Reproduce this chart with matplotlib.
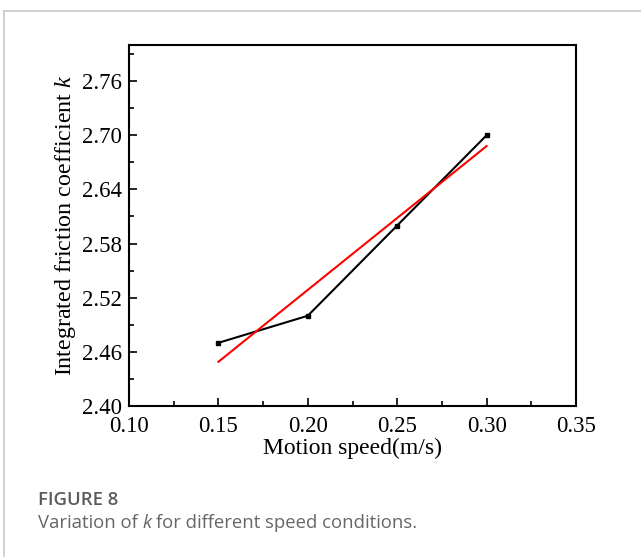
import matplotlib
matplotlib.use('Agg')
import matplotlib.pyplot as plt
from matplotlib.ticker import AutoMinorLocator
from matplotlib.lines import Line2D

plt.rcParams['font.family'] = ['Liberation Serif', 'DejaVu Serif']
plt.rcParams['mathtext.fontset'] = 'custom'
plt.rcParams['mathtext.it'] = 'Liberation Serif:italic'
plt.rcParams['mathtext.rm'] = 'Liberation Serif'

# data
speed = [0.15, 0.20, 0.25, 0.30]
k_values = [2.47, 2.50, 2.60, 2.70]
fit_speed = [0.15, 0.30]
fit_k = [2.449, 2.688]

x_ticks = [0.10, 0.15, 0.20, 0.25, 0.30, 0.35]
y_ticks = [2.40, 2.46, 2.52, 2.58, 2.64, 2.70, 2.76]

fig = plt.figure(figsize=(6.41, 5.57), dpi=100)
ax = fig.add_axes([129 / 641, 1 - 406 / 557, 447 / 641, 361 / 557])

ax.plot(speed, k_values, color='black', lw=1.5, marker='s', ms=3.5)
ax.plot(fit_speed, fit_k, color='red', lw=1.5)

ax.set_xlim(0.10, 0.35)
ax.set_ylim(2.40, 2.80)
ax.set_xticks(x_ticks)
ax.set_yticks(y_ticks)
ax.set_xticklabels(['%.2f' % v for v in x_ticks], fontsize=16.5)
ax.set_yticklabels(['%.2f' % v for v in y_ticks], fontsize=16.5)
ax.xaxis.set_minor_locator(AutoMinorLocator(2))
ax.yaxis.set_minor_locator(AutoMinorLocator(2))
ax.tick_params(which='major', direction='in', length=6, width=1.2,
               top=False, right=False)
ax.tick_params(which='minor', direction='in', length=3.5, width=1.2,
               top=False, right=False)
ax.tick_params(axis='x', pad=7.5)
ax.tick_params(axis='y', pad=5)
for sp in ax.spines.values():
    sp.set_linewidth(1.5)

ax.set_xlabel('Motion speed(m/s)', fontsize=17, labelpad=0)
ax.set_ylabel('Integrated friction coefficient $\\mathit{k}$', fontsize=17.3, labelpad=3)

# frame around the figure
frame_col = '#c8c8c8'
fig.add_artist(Line2D([4 / 641, 1], [1 - 11 / 557, 1 - 11 / 557], color=frame_col, lw=1.2,
                      transform=fig.transFigure))
fig.add_artist(Line2D([4 / 641, 4 / 641], [0, 1 - 11 / 557], color=frame_col, lw=1.2,
                      transform=fig.transFigure))

# caption
cap_font = ['Open Sans', 'DejaVu Sans']
fig.text(38 / 641, 1 - 500 / 557, 'FIGURE 8', family=cap_font, fontsize=13.3,
         fontweight='semibold', color='#5a5a5a', va='center')
y2 = 1 - 523 / 557
t1 = fig.text(38 / 641, y2, 'Variation of', family=cap_font, fontsize=13.3,
              color='#666666', va='center')
fig.canvas.draw()
r = fig.canvas.get_renderer()
x1 = t1.get_window_extent(r).x1 + 4.5
t2 = fig.text(x1 / 641, y2, 'k', family=cap_font, fontsize=13.3, style='italic',
              color='#666666', va='center')
x2 = t2.get_window_extent(r).x1 + 4.5
fig.text(x2 / 641, y2, 'for different speed conditions.', family=cap_font, fontsize=13.3,
         color='#666666', va='center')

fig.savefig('out.png', dpi=100)
